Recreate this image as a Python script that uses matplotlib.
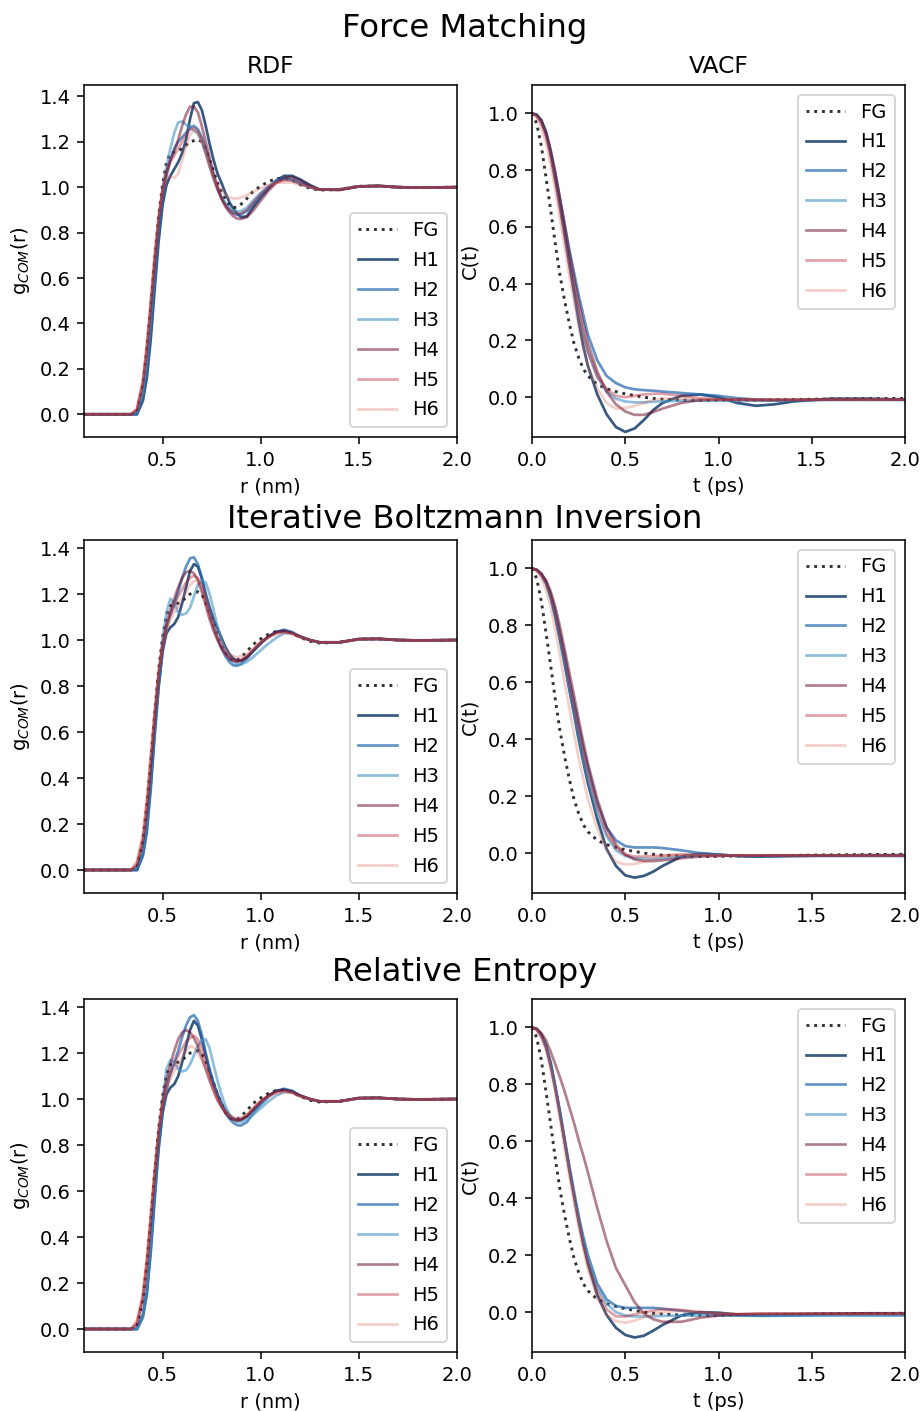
import matplotlib
matplotlib.use("Agg")
import matplotlib.pyplot as plt

# ── data ────────────────────────────────────────────────────────────
R_NM = [0.10, 0.34, 0.37, 0.40, 0.42, 0.44, 0.46, 0.48, 0.50, 0.52, 0.54, 0.56,
        0.58, 0.60, 0.62, 0.64, 0.66, 0.68, 0.70, 0.72, 0.74, 0.76, 0.78, 0.80,
        0.82, 0.84, 0.86, 0.88, 0.90, 0.93, 0.96, 1.00, 1.04, 1.08, 1.12, 1.16,
        1.20, 1.25, 1.30, 1.40, 1.50, 1.60, 1.70, 1.80, 2.00]

T_PS = [0, 0.025, 0.05, 0.075, 0.1, 0.125, 0.15, 0.175, 0.2, 0.225, 0.25, 0.275,
        0.3, 0.35, 0.4, 0.45, 0.5, 0.55, 0.6, 0.65, 0.7, 0.8, 0.9, 1.0, 1.1, 1.2,
        1.3, 1.4, 1.6, 1.8, 2.0]

RDF_FG = [0, 0, 0.01, 0.13, 0.28, 0.47, 0.68, 0.87, 1.01, 1.11, 1.15, 1.155,
          1.16, 1.17, 1.185, 1.20, 1.205, 1.21, 1.20, 1.165, 1.12, 1.07, 1.02, 0.98,
          0.945, 0.92, 0.91, 0.912, 0.925, 0.95, 0.98, 1.005, 1.025, 1.038, 1.04, 1.03,
          1.012, 0.995, 0.987, 0.99, 1.004, 1.005, 1.0, 0.998, 1.0]

VACF_FG = [1.0, 0.965, 0.885, 0.775, 0.66, 0.54, 0.43, 0.34, 0.26, 0.19, 0.14, 0.10,
           0.075, 0.045, 0.03, 0.02, 0.012, 0.006, 0.0, -0.004, -0.007, -0.01, -0.011,
           -0.011, -0.01, -0.01, -0.009, -0.008, -0.006, -0.005, -0.004]

# Force Matching
FM_RDF = [
    [0, 0, 0.0, 0.06, 0.16, 0.33, 0.55, 0.76, 0.92, 1.01, 1.05, 1.08, 1.11, 1.15, 1.21,
     1.30, 1.37, 1.375, 1.34, 1.27, 1.19, 1.12, 1.06, 1.02, 0.975, 0.935, 0.905, 0.885,
     0.868, 0.872, 0.91, 0.955, 0.995, 1.03, 1.05, 1.05, 1.035, 1.01, 0.99, 0.988, 1.003,
     1.006, 1.0, 0.998, 1.0],  # H1
    [0, 0, 0.0, 0.08, 0.20, 0.38, 0.60, 0.80, 0.95, 1.05, 1.12, 1.17, 1.20, 1.22, 1.24,
     1.265, 1.27, 1.255, 1.22, 1.17, 1.11, 1.05, 1.0, 0.955, 0.925, 0.90, 0.885, 0.878,
     0.88, 0.895, 0.925, 0.965, 1.0, 1.03, 1.04, 1.035, 1.02, 1.0, 0.99, 0.99, 1.004,
     1.005, 1.0, 0.998, 1.0],  # H2
    [0, 0, 0.01, 0.10, 0.23, 0.42, 0.64, 0.84, 0.99, 1.09, 1.17, 1.24, 1.285, 1.29, 1.275,
     1.26, 1.25, 1.235, 1.20, 1.15, 1.09, 1.035, 0.99, 0.955, 0.93, 0.91, 0.898, 0.892,
     0.895, 0.91, 0.94, 0.975, 1.005, 1.025, 1.035, 1.03, 1.015, 1.0, 0.99, 0.99, 1.003,
     1.005, 1.0, 0.998, 1.0],  # H3
    [0, 0, 0.02, 0.14, 0.29, 0.48, 0.68, 0.86, 0.99, 1.07, 1.12, 1.16, 1.21, 1.27, 1.32,
     1.355, 1.355, 1.33, 1.27, 1.20, 1.13, 1.06, 1.0, 0.95, 0.915, 0.89, 0.872, 0.862,
     0.86, 0.868, 0.895, 0.94, 0.985, 1.02, 1.04, 1.045, 1.03, 1.005, 0.99, 0.988, 1.003,
     1.006, 1.0, 0.998, 1.0],  # H4
    [0, 0, 0.02, 0.13, 0.28, 0.47, 0.67, 0.85, 0.98, 1.06, 1.11, 1.14, 1.17, 1.20, 1.23,
     1.255, 1.26, 1.245, 1.21, 1.155, 1.095, 1.04, 0.99, 0.95, 0.92, 0.90, 0.888, 0.882,
     0.885, 0.90, 0.93, 0.97, 1.0, 1.02, 1.03, 1.03, 1.015, 1.0, 0.99, 0.99, 1.003,
     1.005, 1.0, 0.998, 1.0],  # H5
    [0, 0, 0.03, 0.16, 0.32, 0.52, 0.72, 0.88, 0.99, 1.04, 1.05, 1.04, 1.06, 1.12, 1.18,
     1.23, 1.25, 1.24, 1.20, 1.145, 1.09, 1.045, 1.01, 0.985, 0.965, 0.955, 0.95, 0.95,
     0.955, 0.965, 0.98, 0.995, 1.01, 1.02, 1.02, 1.02, 1.01, 1.0, 0.99, 0.99, 1.003,
     1.005, 1.0, 0.998, 1.0],  # H6
]
FM_VACF = [
    [1.0, 0.995, 0.975, 0.93, 0.86, 0.77, 0.68, 0.58, 0.47, 0.37, 0.27, 0.18, 0.11,
     0.01, -0.06, -0.105, -0.122, -0.11, -0.08, -0.045, -0.02, 0.005, 0.01, 0.0, -0.02,
     -0.03, -0.025, -0.015, -0.005, -0.005, -0.008],
    [1.0, 0.995, 0.975, 0.935, 0.87, 0.79, 0.70, 0.61, 0.52, 0.44, 0.36, 0.29, 0.22,
     0.13, 0.075, 0.05, 0.035, 0.028, 0.025, 0.023, 0.02, 0.015, 0.01, 0.005, -0.003,
     -0.008, -0.01, -0.01, -0.008, -0.007, -0.008],
    [1.0, 0.995, 0.97, 0.925, 0.855, 0.765, 0.67, 0.57, 0.47, 0.38, 0.29, 0.22, 0.16,
     0.07, 0.02, -0.005, -0.015, -0.018, -0.018, -0.016, -0.015, -0.012, -0.012, -0.012,
     -0.012, -0.012, -0.012, -0.011, -0.01, -0.01, -0.01],
    [1.0, 0.995, 0.975, 0.935, 0.87, 0.79, 0.70, 0.605, 0.51, 0.42, 0.335, 0.26, 0.19,
     0.09, 0.02, -0.025, -0.05, -0.062, -0.062, -0.052, -0.04, -0.02, -0.01, -0.008,
     -0.008, -0.01, -0.01, -0.01, -0.008, -0.008, -0.008],
    [1.0, 0.99, 0.965, 0.92, 0.85, 0.76, 0.665, 0.565, 0.47, 0.38, 0.30, 0.22, 0.16,
     0.075, 0.03, 0.005, 0.0, 0.005, 0.01, 0.012, 0.012, 0.005, -0.003, -0.008, -0.008,
     -0.008, -0.008, -0.008, -0.008, -0.008, -0.008],
    [1.0, 0.985, 0.95, 0.895, 0.82, 0.73, 0.63, 0.53, 0.43, 0.34, 0.25, 0.175, 0.11,
     0.03, -0.02, -0.04, -0.038, -0.03, -0.02, -0.01, -0.005, -0.005, -0.008, -0.008,
     -0.008, -0.008, -0.008, -0.008, -0.008, -0.008, -0.008],
]

# Iterative Boltzmann Inversion
IBI_RDF = [
    [0, 0, 0.0, 0.07, 0.18, 0.37, 0.60, 0.80, 0.95, 1.03, 1.055, 1.07, 1.10, 1.16, 1.23,
     1.30, 1.33, 1.32, 1.27, 1.20, 1.14, 1.09, 1.05, 1.01, 0.97, 0.94, 0.92, 0.91, 0.91,
     0.925, 0.95, 0.985, 1.015, 1.035, 1.04, 1.03, 1.015, 1.0, 0.99, 0.99, 1.004, 1.005,
     1.0, 0.998, 1.0],
    [0, 0, 0.0, 0.06, 0.16, 0.35, 0.58, 0.79, 0.95, 1.05, 1.11, 1.16, 1.21, 1.27, 1.32,
     1.355, 1.36, 1.33, 1.27, 1.19, 1.12, 1.06, 1.01, 0.965, 0.93, 0.905, 0.89, 0.888,
     0.895, 0.92, 0.95, 0.985, 1.015, 1.035, 1.045, 1.035, 1.015, 1.0, 0.99, 0.99, 1.004,
     1.005, 1.0, 0.998, 1.0],
    [0, 0, 0.01, 0.08, 0.20, 0.40, 0.63, 0.84, 1.0, 1.12, 1.18, 1.16, 1.12, 1.11, 1.115,
     1.14, 1.19, 1.24, 1.26, 1.25, 1.20, 1.13, 1.06, 1.0, 0.955, 0.925, 0.905, 0.895,
     0.895, 0.905, 0.925, 0.955, 0.985, 1.01, 1.03, 1.03, 1.015, 1.0, 0.99, 0.99, 1.003,
     1.005, 1.0, 0.998, 1.0],
    [0, 0, 0.02, 0.12, 0.26, 0.45, 0.66, 0.85, 0.98, 1.07, 1.13, 1.18, 1.23, 1.27, 1.295,
     1.30, 1.29, 1.26, 1.21, 1.15, 1.09, 1.04, 1.0, 0.965, 0.94, 0.92, 0.91, 0.905, 0.91,
     0.925, 0.955, 0.99, 1.015, 1.035, 1.04, 1.03, 1.015, 1.0, 0.99, 0.99, 1.004, 1.005,
     1.0, 0.998, 1.0],
    [0, 0, 0.03, 0.14, 0.29, 0.48, 0.68, 0.86, 0.98, 1.06, 1.11, 1.15, 1.19, 1.22, 1.25,
     1.27, 1.28, 1.27, 1.23, 1.17, 1.11, 1.055, 1.01, 0.97, 0.945, 0.925, 0.915, 0.91,
     0.915, 0.93, 0.955, 0.99, 1.015, 1.03, 1.035, 1.03, 1.015, 1.0, 0.99, 0.99, 1.004,
     1.005, 1.0, 0.998, 1.0],
    [0, 0, 0.04, 0.16, 0.32, 0.51, 0.70, 0.86, 0.97, 1.04, 1.09, 1.12, 1.15, 1.18, 1.21,
     1.24, 1.255, 1.26, 1.235, 1.18, 1.12, 1.065, 1.02, 0.985, 0.96, 0.94, 0.93, 0.925,
     0.93, 0.94, 0.96, 0.99, 1.01, 1.025, 1.03, 1.025, 1.01, 1.0, 0.99, 0.99, 1.003,
     1.005, 1.0, 0.998, 1.0],
]
IBI_VACF = [
    [1.0, 0.995, 0.98, 0.95, 0.90, 0.83, 0.75, 0.665, 0.575, 0.49, 0.40, 0.32, 0.245,
     0.12, 0.015, -0.045, -0.078, -0.086, -0.08, -0.065, -0.045, -0.012, -0.002, -0.005,
     -0.01, -0.012, -0.01, -0.01, -0.008, -0.007, -0.007],
    [1.0, 0.995, 0.98, 0.955, 0.91, 0.85, 0.775, 0.695, 0.61, 0.53, 0.45, 0.37, 0.30,
     0.175, 0.09, 0.045, 0.025, 0.02, 0.02, 0.02, 0.018, 0.01, 0.0, -0.005, -0.01,
     -0.012, -0.012, -0.01, -0.01, -0.01, -0.01],
    [1.0, 0.995, 0.975, 0.945, 0.895, 0.83, 0.75, 0.665, 0.58, 0.495, 0.41, 0.33, 0.26,
     0.14, 0.06, 0.01, -0.01, -0.018, -0.02, -0.02, -0.018, -0.012, -0.008, -0.008,
     -0.008, -0.008, -0.008, -0.008, -0.008, -0.008, -0.008],
    [1.0, 0.995, 0.982, 0.958, 0.92, 0.865, 0.795, 0.715, 0.635, 0.555, 0.47, 0.39, 0.315,
     0.19, 0.09, 0.03, -0.005, -0.022, -0.028, -0.028, -0.025, -0.018, -0.012, -0.01,
     -0.008, -0.008, -0.008, -0.008, -0.008, -0.008, -0.008],
    [1.0, 0.995, 0.978, 0.95, 0.905, 0.84, 0.765, 0.685, 0.60, 0.515, 0.435, 0.355, 0.285,
     0.16, 0.07, 0.02, -0.005, -0.012, -0.012, -0.01, -0.008, -0.005, -0.006, -0.008,
     -0.008, -0.008, -0.008, -0.008, -0.008, -0.008, -0.008],
    [1.0, 0.99, 0.965, 0.925, 0.865, 0.785, 0.695, 0.60, 0.51, 0.42, 0.335, 0.26, 0.19,
     0.085, 0.01, -0.03, -0.04, -0.038, -0.03, -0.02, -0.012, -0.006, -0.006, -0.008,
     -0.008, -0.008, -0.008, -0.008, -0.008, -0.008, -0.008],
]

# Relative Entropy
RE_RDF = [
    [0, 0, 0.0, 0.06, 0.16, 0.35, 0.58, 0.79, 0.94, 1.02, 1.05, 1.065, 1.10, 1.16, 1.23,
     1.30, 1.34, 1.32, 1.26, 1.19, 1.12, 1.065, 1.02, 0.98, 0.95, 0.93, 0.915, 0.91, 0.91,
     0.925, 0.95, 0.985, 1.015, 1.035, 1.04, 1.035, 1.015, 1.0, 0.99, 0.99, 1.004, 1.005,
     1.0, 0.998, 1.0],
    [0, 0, 0.0, 0.05, 0.15, 0.33, 0.56, 0.78, 0.94, 1.04, 1.11, 1.16, 1.21, 1.27, 1.32,
     1.355, 1.365, 1.34, 1.28, 1.20, 1.13, 1.07, 1.02, 0.975, 0.94, 0.915, 0.897, 0.886,
     0.885, 0.90, 0.935, 0.975, 1.01, 1.035, 1.045, 1.035, 1.015, 1.0, 0.99, 0.99, 1.004,
     1.005, 1.0, 0.998, 1.0],
    [0, 0, 0.0, 0.06, 0.17, 0.37, 0.61, 0.83, 0.99, 1.13, 1.17, 1.16, 1.13, 1.12, 1.125,
     1.15, 1.19, 1.23, 1.255, 1.26, 1.22, 1.15, 1.08, 1.02, 0.97, 0.935, 0.91, 0.90, 0.90,
     0.91, 0.93, 0.96, 0.99, 1.015, 1.03, 1.03, 1.015, 1.0, 0.99, 0.99, 1.003, 1.005,
     1.0, 0.998, 1.0],
    [0, 0, 0.02, 0.13, 0.28, 0.47, 0.67, 0.85, 0.99, 1.08, 1.15, 1.21, 1.26, 1.29, 1.30,
     1.29, 1.265, 1.23, 1.18, 1.13, 1.08, 1.035, 0.995, 0.965, 0.94, 0.92, 0.91, 0.905,
     0.91, 0.925, 0.955, 0.99, 1.015, 1.035, 1.04, 1.03, 1.015, 1.0, 0.99, 0.99, 1.004,
     1.005, 1.0, 0.998, 1.0],
    [0, 0, 0.03, 0.14, 0.29, 0.48, 0.68, 0.86, 0.98, 1.06, 1.11, 1.15, 1.19, 1.22, 1.25,
     1.265, 1.275, 1.26, 1.22, 1.16, 1.10, 1.05, 1.005, 0.97, 0.945, 0.925, 0.915, 0.91,
     0.915, 0.93, 0.955, 0.99, 1.015, 1.03, 1.035, 1.03, 1.015, 1.0, 0.99, 0.99, 1.004,
     1.005, 1.0, 0.998, 1.0],
    [0, 0, 0.04, 0.16, 0.32, 0.51, 0.70, 0.86, 0.97, 1.04, 1.09, 1.12, 1.15, 1.18, 1.21,
     1.23, 1.225, 1.20, 1.17, 1.13, 1.085, 1.04, 1.0, 0.97, 0.945, 0.93, 0.92, 0.915,
     0.92, 0.935, 0.96, 0.99, 1.01, 1.025, 1.03, 1.025, 1.01, 1.0, 0.99, 0.99, 1.003,
     1.005, 1.0, 0.998, 1.0],
]
RE_VACF = [
    [1.0, 0.995, 0.975, 0.935, 0.875, 0.79, 0.70, 0.60, 0.50, 0.41, 0.32, 0.24, 0.17,
     0.06, -0.01, -0.055, -0.08, -0.089, -0.083, -0.065, -0.045, -0.012, 0.0, -0.002,
     -0.008, -0.01, -0.01, -0.008, -0.006, -0.005, -0.006],
    [1.0, 0.995, 0.975, 0.935, 0.875, 0.795, 0.705, 0.61, 0.515, 0.425, 0.34, 0.265, 0.20,
     0.10, 0.045, 0.022, 0.015, 0.015, 0.015, 0.015, 0.012, 0.005, -0.003, -0.008,
     -0.012, -0.013, -0.013, -0.012, -0.01, -0.01, -0.01],
    [1.0, 0.993, 0.97, 0.93, 0.865, 0.785, 0.695, 0.60, 0.505, 0.415, 0.33, 0.255, 0.19,
     0.09, 0.03, 0.0, -0.012, -0.015, -0.015, -0.015, -0.013, -0.012, -0.012, -0.012,
     -0.012, -0.012, -0.012, -0.012, -0.012, -0.012, -0.012],
    [1.0, 0.995, 0.98, 0.955, 0.915, 0.87, 0.825, 0.775, 0.72, 0.665, 0.605, 0.55, 0.49,
     0.365, 0.25, 0.155, 0.095, 0.035, -0.005, -0.025, -0.034, -0.034, -0.02, -0.012,
     -0.008, -0.006, -0.005, -0.005, -0.005, -0.004, -0.004],
    [1.0, 0.993, 0.97, 0.93, 0.865, 0.785, 0.695, 0.60, 0.505, 0.41, 0.325, 0.245, 0.175,
     0.075, 0.01, -0.015, -0.015, -0.008, 0.0, 0.005, 0.01, 0.008, 0.0, -0.005, -0.008,
     -0.006, -0.006, -0.006, -0.006, -0.006, -0.006],
    [1.0, 0.99, 0.962, 0.92, 0.855, 0.77, 0.675, 0.575, 0.48, 0.385, 0.30, 0.22, 0.15,
     0.05, -0.01, -0.032, -0.037, -0.03, -0.018, -0.008, 0.0, 0.005, 0.0, -0.005, -0.006,
     -0.006, -0.006, -0.006, -0.006, -0.006, -0.006],
]

LABELS = ["H1", "H2", "H3", "H4", "H5", "H6"]
COLORS = ["#053061", "#2166ac", "#4393c3", "#67001f", "#b2182b", "#d6604d"]
ALPHAS = [0.8, 0.7, 0.6, 0.5, 0.4, 0.3]

METHODS = [
    ("Force Matching", FM_RDF, FM_VACF),
    ("Iterative Boltzmann Inversion", IBI_RDF, IBI_VACF),
    ("Relative Entropy", RE_RDF, RE_VACF),
]


def main():
    W, H = 923, 1411
    fig = plt.figure(figsize=(W / 140, H / 140), dpi=140)

    # axes boxes in pixels: (top, bottom) of each row
    rows_px = [(85, 437), (540, 893), (999, 1352)]
    title_y = [28, 520, 973]
    left_x, right_x, ax_w = 84, 532, 373

    for k, (name, rdf, vacf) in enumerate(METHODS):
        top, bot = rows_px[k]
        b = 1 - bot / H
        h = (bot - top) / H
        ax_r = fig.add_axes([left_x / W, b, ax_w / W, h])
        ax_v = fig.add_axes([right_x / W, b, ax_w / W, h])

        fig.text(465 / W, 1 - title_y[k] / H, name, ha="center", va="center",
                 fontsize=16.6)

        ax_r.plot(R_NM, RDF_FG, ls=":", color="k", alpha=0.8, lw=1.5, label="FG")
        for i, ys in enumerate(rdf):
            ax_r.plot(R_NM, ys, color=COLORS[i], alpha=ALPHAS[i], lw=1.4,
                      label=LABELS[i])
        ax_r.set_xlim(0.1, 2.0)
        ax_r.set_ylim(-0.1, 1.45 if k == 0 else 1.435)
        ax_r.set_xticks([0.5, 1.0, 1.5, 2.0])
        ax_r.set_yticks([0.0, 0.2, 0.4, 0.6, 0.8, 1.0, 1.2, 1.4])
        ax_r.set_xlabel("r (nm)")
        ax_r.set_ylabel("g$_{COM}$(r)")
        ax_r.legend(loc="lower right", labelspacing=0.56)

        ax_v.plot(T_PS, VACF_FG, ls=":", color="k", alpha=0.8, lw=1.5, label="FG")
        for i, ys in enumerate(vacf):
            ax_v.plot(T_PS, ys, color=COLORS[i], alpha=ALPHAS[i], lw=1.4,
                      label=LABELS[i])
        ax_v.set_xlim(0.0, 2.0)
        ax_v.set_ylim(-0.14, 1.1)
        ax_v.set_xticks([0.0, 0.5, 1.0, 1.5, 2.0])
        ax_v.set_yticks([0.0, 0.2, 0.4, 0.6, 0.8, 1.0])
        ax_v.set_xlabel("t (ps)")
        ax_v.set_ylabel("C(t)")
        ax_v.legend(loc="upper right", labelspacing=0.56)

        if k == 0:
            ax_r.set_title("RDF", fontsize=12)
            ax_v.set_title("VACF", fontsize=12)

    fig.savefig("out.png", dpi=140)
    plt.close(fig)


if __name__ == "__main__":
    main()
